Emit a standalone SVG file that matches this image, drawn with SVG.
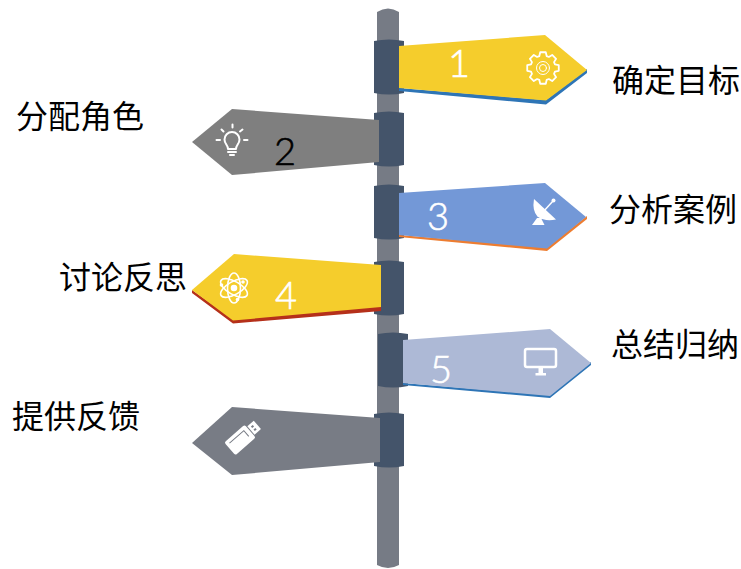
<svg xmlns="http://www.w3.org/2000/svg" width="741" height="569" viewBox="0 0 741 569">
<style>
.lbl{font-family:"Noto Sans CJK SC","Noto Sans",sans-serif;font-size:32px;fill:#000}
.num{font-family:"Lato","Roboto",sans-serif;font-weight:300;font-size:38px;text-anchor:middle;stroke-width:.6px}
.w{fill:#fff}
.num.w{stroke:#fff}
.ol{fill:none;stroke:#fff;stroke-linecap:round;stroke-linejoin:round}
.collar{fill:#44546A}
</style>
<defs>
<path id="c" d="M0 2Q15 -1 30 2V54Q15 57 0 54Z" class="collar"/>
</defs>
<rect width="741" height="569" fill="#fff"/>
<path id="pole" d="M377 12Q388 5 399 12V565Q388 571 377 565Z" fill="#767B85"/>
<g id="connectors"></g>

<g id="node-1">
<use href="#c" x="374" y="39"/>
<path d="M399 88V91L546 104.500L587 73V69L546 100L399 88Z" fill="#2E75B6"/>
<path d="M399 46L545 35L587 70L546 100.500L399 88Z" fill="#F5CD2C"/>
<text class="num w" x="459" y="77">1</text>
<g transform="translate(543 68)">
<path class="ol" stroke-width="1.800" d="M11.95 -3.65L15.76 -2.78L15.76 2.78L11.95 3.65L11.04 5.87L13.1 9.18L9.18 13.1L5.87 11.04L3.65 11.95L2.78 15.76L-2.78 15.76L-3.65 11.95L-5.87 11.04L-9.18 13.1L-13.1 9.18L-11.04 5.87L-11.95 3.65L-15.76 2.78L-15.76 -2.78L-11.95 -3.65L-11.04 -5.87L-13.1 -9.18L-9.18 -13.1L-5.87 -11.04L-3.65 -11.95L-2.78 -15.76L2.78 -15.76L3.65 -11.95L5.87 -11.04L9.18 -13.1L13.1 -9.18L11.04 -5.87Z"/>
<circle class="ol" r="6.500" stroke-width="1"/><circle class="ol" r="3.500" stroke-width="1"/>
</g>
<text class="lbl" x="612" y="92">确定目标</text>
</g>

<g id="node-2">
<use href="#c" x="374" y="111"/>
<path d="M192 142L232 109L379 120V162L232 175Z" fill="#7F7F7F"/>
<g class="ol">
<path stroke-width="2" d="M228 149C228 145 224.500 144 224.500 139.500A7.500 7.500 0 0 1 239.500 139.500C239.500 144 236 145 236 149Z"/>
<path stroke-width="2" d="M216.500 140H220M244 140H247.500M221.500 129.500L223.500 131.500M242.500 129.500L240 131.500M232.500 124.500V127.500"/>
<path stroke-width="2" d="M228 152H236M230 155H234"/>
</g>
<text class="num" x="285" y="165" fill="#000" stroke="#000">2</text>
<text class="lbl" x="16" y="128">分配角色</text>
</g>

<g id="node-3">
<use href="#c" x="374" y="184"/>
<path d="M399 235V237L547 251L587 219V216L547 247L399 235Z" fill="#ED7D31"/>
<path d="M399 193L545 183L586 217L547 248.500L399 235Z" fill="#7398D7"/>
<text class="num w" x="438" y="230">3</text>
<g class="w">
<path d="M534 199Q532 211 537.500 216.500Q545 222 556 219.500Z"/>
<path d="M543 212L553 201" stroke="#fff" stroke-width="1.500"/>
<circle cx="553.500" cy="200.500" r="2"/>
<path d="M537 218L532 225H544.500L541 218Z"/>
</g>
<text class="lbl" x="609" y="221">分析案例</text>
</g>

<g id="node-4">
<use href="#c" x="374" y="260"/>
<path d="M192 290V293L233 323.500L381 311V305L233 319Z" fill="#B5301A"/>
<path d="M192 290L234 254L381 265V307L233 320.500Z" fill="#F5CD2C"/>
<g class="ol" stroke-width="1.600" transform="translate(234 288)">
<ellipse rx="15" ry="6.500" transform="rotate(30)"/>
<ellipse rx="15" ry="6.500" transform="rotate(90)"/>
<ellipse rx="15" ry="6.500" transform="rotate(150)"/>
<circle r="2.500" fill="#fff"/>
</g>
<g class="w"><circle cx="221.500" cy="285" r="1.800"/><circle cx="237.500" cy="299.500" r="1.800"/><circle cx="243" cy="282" r="1.800"/></g>
<text class="num w" x="286" y="309">4</text>
<text class="lbl" x="59" y="289">讨论反思</text>
</g>

<g id="node-5">
<use href="#c" x="378" y="332"/>
<path d="M403 383V385L550 398L591 365V362L550 395L403 383Z" fill="#2E75B6"/>
<path d="M403 340L550 329L591 363L550 396L403 383Z" fill="#ADB9D6"/>
<text class="num w" x="441" y="383">5</text>
<rect class="ol" x="525" y="349" width="31" height="18" rx="2" stroke-width="2.500"/>
<path class="w" d="M538.500 367H543V373H546V375.500H535.500V373H538.500Z"/>
<text class="lbl" x="611" y="356">总结归纳</text>
</g>

<g id="node-6">
<use href="#c" x="374" y="412"/>
<path d="M192 443L232 407L380 418V462L232 475Z" fill="#787C85"/>
<g transform="translate(240 440) rotate(-41)">
<rect class="w" x="-13.500" y="-8.500" width="27" height="17" rx="2"/>
<path d="M-10 -4.500H9V3" fill="none" stroke="#787C85" stroke-width="1"/>
<path class="w" d="M14.500 -5.500H23V5.500H14.500Z"/>
<rect x="17" y="-3" width="2.500" height="2" fill="#787C85"/>
<rect x="17" y="1" width="2.500" height="2" fill="#787C85"/>
</g>
<text class="lbl" x="12" y="428">提供反馈</text>
</g>
</svg>
